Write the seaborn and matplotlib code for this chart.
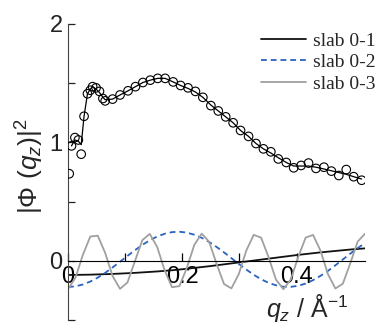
import seaborn as sns
import pandas as pd
import matplotlib.pyplot as plotter

# measured points (open circles)
q_data = [0.002, 0.006, 0.012, 0.018, 0.023, 0.028, 0.034, 0.039, 0.043, 0.049,
          0.055, 0.061, 0.065, 0.078, 0.091, 0.105, 0.118, 0.131, 0.144, 0.157,
          0.170, 0.184, 0.197, 0.210, 0.223, 0.236, 0.250, 0.263, 0.276, 0.289,
          0.302, 0.316, 0.329, 0.342, 0.355, 0.368, 0.382, 0.395, 0.408, 0.421,
          0.434, 0.448, 0.461, 0.474, 0.487, 0.500, 0.514]
phi_data = [0.735, 0.97, 1.04, 1.02, 0.90, 1.22, 1.41, 1.44, 1.47, 1.46,
            1.43, 1.37, 1.35, 1.365, 1.40, 1.435, 1.47, 1.505, 1.525, 1.54,
            1.54, 1.51, 1.48, 1.46, 1.43, 1.38, 1.31, 1.265, 1.215, 1.165,
            1.10, 1.05, 0.99, 0.945, 0.92, 0.86, 0.83, 0.785, 0.805, 0.825,
            0.78, 0.79, 0.757, 0.72, 0.77, 0.71, 0.68]

# model curve through the points
q_fit = q_data[1:]
phi_fit = [0.97, 1.02, 1.01, 0.98, 1.22, 1.41, 1.45, 1.47, 1.45,
           1.42, 1.38, 1.36, 1.365, 1.40, 1.435, 1.47, 1.505, 1.525, 1.54,
           1.54, 1.51, 1.48, 1.455, 1.425, 1.38, 1.315, 1.265, 1.215, 1.165,
           1.10, 1.05, 0.99, 0.945, 0.91, 0.87, 0.83, 0.80, 0.80, 0.80,
           0.79, 0.775, 0.76, 0.745, 0.73, 0.71, 0.69]

# slab curves
q_slab = [0.000, 0.013, 0.026, 0.039, 0.052, 0.065, 0.078, 0.091, 0.104, 0.117,
          0.130, 0.143, 0.156, 0.169, 0.182, 0.195, 0.208, 0.221, 0.234, 0.247,
          0.260, 0.273, 0.286, 0.299, 0.312, 0.325, 0.338, 0.351, 0.364, 0.377,
          0.390, 0.403, 0.416, 0.429, 0.442, 0.455, 0.468, 0.481, 0.494, 0.507,
          0.520]
slab_01 = [-0.120, -0.119, -0.118, -0.117, -0.115, -0.113, -0.111, -0.108, -0.105, -0.102,
           -0.098, -0.094, -0.090, -0.085, -0.080, -0.074, -0.067, -0.060, -0.053, -0.046,
           -0.038, -0.030, -0.022, -0.014, -0.006, 0.002, 0.010, 0.018, 0.026, 0.034,
           0.042, 0.050, 0.057, 0.064, 0.071, 0.077, 0.083, 0.089, 0.095, 0.100,
           0.105]
slab_02 = [-0.221, -0.216, -0.200, -0.175, -0.142, -0.102, -0.056, -0.008, 0.041, 0.089,
           0.134, 0.173, 0.205, 0.228, 0.242, 0.245, 0.238, 0.220, 0.194, 0.159,
           0.117, 0.071, 0.022, -0.027, -0.074, -0.118, -0.156, -0.186, -0.207, -0.219,
           -0.220, -0.211, -0.192, -0.163, -0.127, -0.085, -0.038, 0.011, 0.060, 0.107,
           0.150]
slab_03 = [-0.239, -0.142, 0.051, 0.205, 0.212, 0.066, -0.129, -0.237, -0.183, -0.004,
           0.174, 0.227, 0.117, -0.079, -0.223, -0.214, -0.059, 0.134, 0.229, 0.160,
           -0.025, -0.196, -0.233, -0.111, 0.086, 0.219, 0.195, 0.031, -0.159, -0.240,
           -0.157, 0.033, 0.196, 0.218, 0.084, -0.113, -0.234, -0.194, -0.022, 0.162,
           0.229]

slab_names = ["slab 0-1", "slab 0-2", "slab 0-3"]
slab_colors = ["#111111", "#2a62c0", "#a0a0a0"]

sns.set_style("ticks")
plotter.rcParams["font.family"] = ["Liberation Sans", "DejaVu Sans"]
plotter.rcParams["mathtext.fontset"] = "custom"
plotter.rcParams["mathtext.rm"] = "Liberation Sans"
plotter.rcParams["mathtext.it"] = "Liberation Sans:italic"

fig = plotter.figure(figsize=(3.76, 3.24), dpi=100)
ax = fig.add_axes([0.181, 0.0123, 0.790, 0.914])

slab_frame = pd.DataFrame({"q": q_slab, slab_names[0]: slab_01,
                           slab_names[1]: slab_02, slab_names[2]: slab_03})
slab_lines = []
for name, color in zip(slab_names, slab_colors):
    style = (0, (3.2, 2.2)) if name == "slab 0-2" else "-"
    sns.lineplot(data=slab_frame, x="q", y=name, color=color, lw=1.3,
                 linestyle=style, ax=ax, label=name)
    slab_lines.append(ax.get_lines()[-1])

sns.lineplot(x=q_fit, y=phi_fit, color="black", lw=0.9, ax=ax)
sns.scatterplot(x=q_data, y=phi_data, marker="o", s=38, facecolor="none",
                edgecolor="black", linewidth=0.8, ax=ax, zorder=4)

ax.set_xlim(0, 0.52)
ax.set_ylim(-0.5, 2)
ax.spines["top"].set_visible(False)
ax.spines["right"].set_visible(False)
ax.spines["bottom"].set_position(("data", 0))
ax.spines["bottom"].set_color("black")
ax.spines["left"].set_color("#444444")
ax.set_xticks([0, 0.1, 0.2, 0.3, 0.4])
ax.set_xticklabels(["0", "", "0.2", "", "0.4"])
ax.set_yticks([-0.5, 0, 0.5, 1, 1.5, 2])
ax.set_yticklabels(["", "0", "", "1", "", "2"])
ax.tick_params(axis="x", direction="in", length=6, width=0.9, pad=4,
               labelsize=17, colors="black")
ax.tick_params(axis="y", direction="in", length=5, width=0.9, pad=4,
               labelsize=17, colors="#222222")
ax.set_xlabel("")
ax.set_ylabel("")

fig.text(30 / 376, 1 - 166 / 324, "|Φ ($q_z$)|$^2$", rotation=90,
         ha="center", va="center", fontsize=19)
fig.text(307 / 376, 1 - 308 / 324, "$q_z$ / Å$^{-1}$",
         ha="center", va="center", fontsize=18)

fig.legend(handles=slab_lines, labels=slab_names, loc="upper right",
           bbox_to_anchor=(1.0, 1 - 32 / 324), frameon=False,
           prop={"family": "Liberation Serif", "size": 14},
           handlelength=2.3, handletextpad=0.4, labelspacing=0.2,
           borderpad=0, borderaxespad=0)
if ax.get_legend() is not None:
    ax.get_legend().remove()

plotter.savefig("out.png", dpi=100)
plotter.clf()
